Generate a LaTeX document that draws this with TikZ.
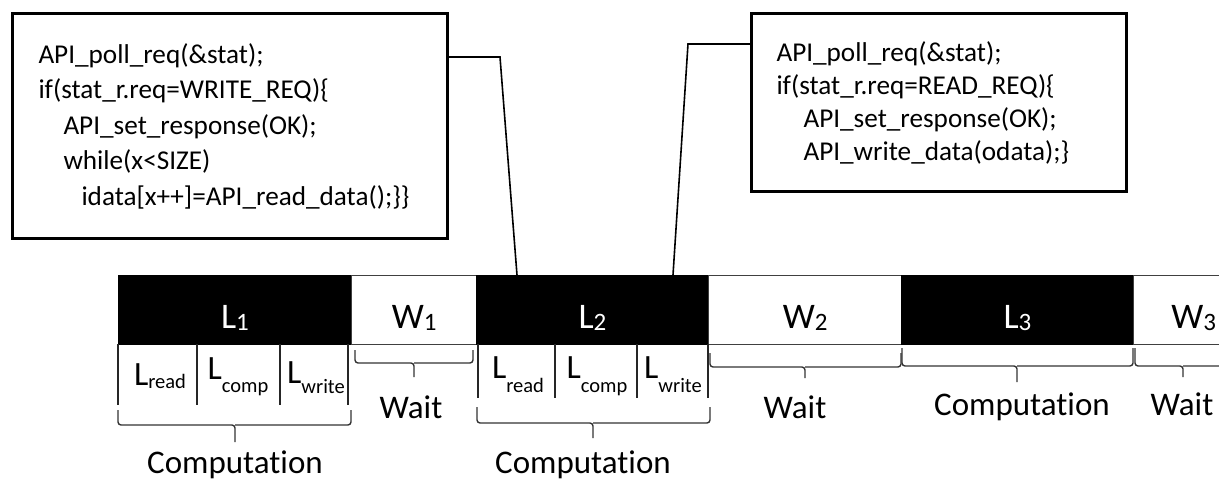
\documentclass[tikz,border=0pt]{standalone}
\usepackage{fontspec}
\setmainfont{Carlito}[Ligatures=NoCommon]
\begin{document}
\begin{tikzpicture}[x=1pt,y=-1pt,
  codebox/.style={draw, line width=3pt, anchor=north west, align=left,
    inner ysep=0pt, minimum height=#1},
  busy/.style={fill=black, draw=black, line width=1pt, inner sep=0pt, anchor=north west,
    minimum height=69, text=white, text height=37pt, text depth=0pt,
    font=\fontsize{36}{36}\selectfont},
  idle/.style={fill=white, draw=black!75, line width=1.3pt, inner sep=0pt, anchor=north west,
    minimum height=69, text height=37pt, text depth=0pt,
    font=\fontsize{36}{36}\selectfont},
  part/.style={anchor=base, inner sep=0pt, font=\fontsize{34}{34}\selectfont},
  note/.style={anchor=base, inner sep=0pt, font=\fontsize{33}{33}\selectfont},
  lead/.style={line width=1.6pt},
  brc/.style={draw=black!80, line width=1.4pt, rounded corners=3pt},
  sep/.style={draw=black!85, line width=1.4pt}
]
\useasboundingbox (0,0) rectangle (1219,481);
\clip (0,0) rectangle (1219,481);
\newcommand\subtx[2]{\raisebox{#1}{\fontsize{20.5}{20.5}\selectfont #2}}
\newcommand\idx[1]{\raisebox{-2pt}{\fontsize{25}{25}\selectfont #1}}
\newcommand\tbrace[6]{%
  \draw[brc] (#1,#4) |- (#2,#5) -- (#2,#6);
  \draw[brc] (#3,#4) |- (#2,#5);}

% code boxes
\node[codebox=225, text width=383pt, inner xsep=26pt,
      font=\fontsize{27.2}{35.5}\selectfont] (wr) at (11,12)
  {API\_poll\_req(\&stat);\\
   if(stat\_r.req=WRITE\_REQ)\{\\
   \hspace*{25pt}API\_set\_response(OK);\\
   \hspace*{25pt}while(x<SIZE)\\
   \hspace*{43pt}idata[x++]=API\_read\_data();\}\}};
\node[codebox=178, text width=325pt, inner xsep=25pt,
      font=\fontsize{27.2}{33}\selectfont] (rd) at (750,12)
  {API\_poll\_req(\&stat);\\
   if(stat\_r.req=READ\_REQ)\{\\
   \hspace*{27pt}API\_set\_response(OK);\\
   \hspace*{27pt}API\_write\_data(odata);\}};

% timeline
\node[idle, minimum width=1120] (strip) at (118,275) {};
\node[busy, minimum width=233] (L1) at (118,275) {L\idx{1}};
\node[idle, minimum width=125] (W1) at (351,275) {W\idx{1}};
\node[busy, minimum width=232] (L2) at (476,275) {L\idx{2}};
\node[idle, minimum width=193] (W2) at (708,275) {W\idx{2}};
\node[busy, minimum width=232] (L3) at (901,275) {L\idx{3}};
\node[idle, minimum width=120] (W3) at (1133,275) {W\idx{3}};

% sub-phases of L1 and L2
\foreach \x in {118,197,280,348} \draw[sep] (\x,344) -- (\x,405);
\foreach \x in {478,555,637,708} \draw[sep] (\x,344) -- (\x,398);
\node[part] (r1) at (160,385) {L\subtx{-3pt}{read}};
\node[part] (c1) at (238,379) {L\subtx{-13pt}{comp}};
\node[part] (w1) at (316,383) {L\subtx{-10pt}{write}};
\node[part] (r2) at (518,378) {L\subtx{-14pt}{read}};
\node[part] (c2) at (597,378) {L\subtx{-14pt}{comp}};
\node[part] (w2) at (673,378) {L\subtx{-14pt}{write}};

% braces and their labels
\tbrace{118}{235}{351}{410}{425}{442}
\tbrace{355}{414}{473}{350}{363}{377}
\tbrace{477}{593}{710}{407}{423}{438}
\tbrace{710}{805}{901}{353}{367}{378}
\tbrace{902}{1017}{1133}{348}{366}{382}
\tbrace{1135}{1183}{1232}{348}{366}{377}
\node[note] (cp1) at (235,473) {Computation};
\node[note] (wt1) at (411,418) {Wait};
\node[note] (cp2) at (583,473) {Computation};
\node[note] (wt2) at (795,418) {Wait};
\node[note] (cp3) at (1022,415) {Computation};
\node[note] (wt3) at (1182,415) {Wait};

% leads from the code boxes to the L2 phase
\coordinate (tapA) at (517,275);
\coordinate (tapB) at (673,275);
\draw[lead] ([yshift=-45pt]wr.north east) -- (500,57) -- (tapA);
\draw[lead] ([yshift=-32pt]rd.north west) -- (688,44) -- (tapB);
\end{tikzpicture}
\end{document}
